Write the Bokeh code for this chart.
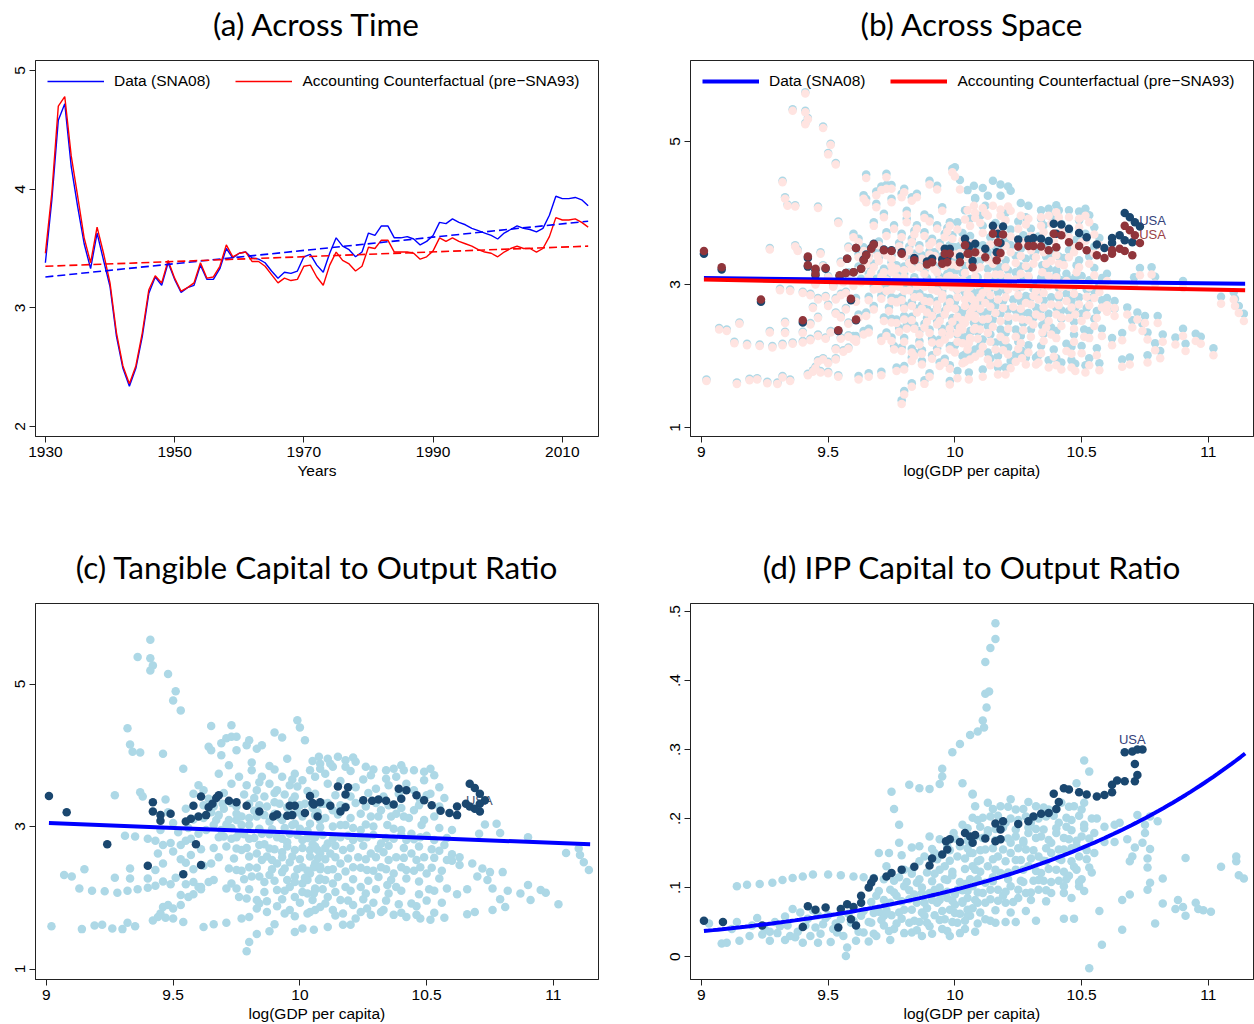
import numpy as np
from bokeh.plotting import figure
from bokeh.models import Range1d, FixedTicker, Legend, LegendItem, Label, LinearAxis
from bokeh.layouts import column, row
from bokeh.embed import file_html
from bokeh.resources import INLINE

# ---------------- (a) capital-output ratio across time ----------------
years = list(range(1930, 2015))
ky_data = [3.38, 3.91, 4.58, 4.72, 4.19, 3.85, 3.54, 3.33, 3.63, 3.40,
           3.18, 2.76, 2.49, 2.34, 2.49, 2.76, 3.12, 3.26, 3.19, 3.38,
           3.24, 3.13, 3.17, 3.19, 3.36, 3.24, 3.24, 3.33, 3.50, 3.42,
           3.46, 3.47, 3.42, 3.41, 3.38, 3.31, 3.25, 3.30, 3.29, 3.31,
           3.43, 3.45, 3.36, 3.30, 3.46, 3.59, 3.52, 3.49, 3.43, 3.47,
           3.63, 3.61, 3.69, 3.69, 3.59, 3.59, 3.60, 3.58, 3.53, 3.56,
           3.61, 3.72, 3.71, 3.75, 3.72, 3.70, 3.67, 3.65, 3.63, 3.61,
           3.58, 3.63, 3.66, 3.69, 3.67, 3.66, 3.64, 3.67, 3.78, 3.94,
           3.92, 3.92, 3.93, 3.91, 3.86]
ky_cf = [3.46, 3.97, 4.70, 4.78, 4.28, 3.94, 3.59, 3.38, 3.68, 3.46,
         3.21, 2.79, 2.51, 2.36, 2.51, 2.79, 3.15, 3.27, 3.21, 3.40,
         3.25, 3.14, 3.17, 3.21, 3.38, 3.25, 3.26, 3.35, 3.53, 3.43,
         3.46, 3.47, 3.39, 3.39, 3.35, 3.28, 3.21, 3.25, 3.23, 3.24,
         3.35, 3.36, 3.26, 3.19, 3.36, 3.47, 3.40, 3.37, 3.31, 3.35,
         3.51, 3.50, 3.57, 3.57, 3.47, 3.47, 3.47, 3.46, 3.41, 3.43,
         3.48, 3.59, 3.56, 3.59, 3.56, 3.54, 3.52, 3.49, 3.47, 3.46,
         3.43, 3.47, 3.50, 3.52, 3.50, 3.50, 3.47, 3.50, 3.60, 3.76,
         3.74, 3.74, 3.75, 3.72, 3.68]
trend_years = [1930, 2014]
trend_data = [3.26, 3.73]
trend_cf = [3.35, 3.52]

# ---------------- (b)/(c) country-year panel: (log GDP pc, tangible K/Y, total K/Y, counterfactual K/Y)
panel_rows = [
    (9.41, 5.62, 5.69, 5.67), (9.36, 5.38, 5.45, 5.43), (9.41, 5.36, 5.43, 5.41), (9.42, 5.26, 5.33, 5.31),
    (9.41, 5.19, 5.26, 5.24), (9.48, 5.14, 5.21, 5.19), (9.51, 4.90, 4.97, 4.95), (9.50, 4.77, 4.84, 4.82),
    (9.53, 4.63, 4.70, 4.68), (9.32, 4.38, 4.45, 4.43), (9.33, 4.15, 4.22, 4.20), (9.34, 4.05, 4.12, 4.10),
    (9.37, 4.04, 4.11, 4.09), (9.46, 4.02, 4.09, 4.07), (9.54, 3.81, 3.88, 3.86), (9.27, 3.44, 3.51, 3.49),
    (9.37, 3.48, 3.55, 3.53), (9.38, 3.42, 3.49, 3.47), (9.47, 3.38, 3.45, 3.43),
    (9.65, 4.41, 4.54, 4.49), (9.73, 4.42, 4.55, 4.50), (9.64, 4.12, 4.25, 4.20), (9.65, 4.07, 4.20, 4.15),
    (9.69, 4.17, 4.30, 4.25), (9.71, 4.24, 4.37, 4.32), (9.73, 4.26, 4.39, 4.34), (9.75, 4.26, 4.39, 4.34),
    (9.69, 4.00, 4.13, 4.08), (9.75, 4.07, 4.20, 4.15), (9.79, 4.14, 4.27, 4.22), (9.80, 4.21, 4.34, 4.29),
    (9.83, 4.09, 4.22, 4.17), (9.85, 4.14, 4.27, 4.22), (9.90, 4.32, 4.45, 4.40), (9.93, 4.25, 4.38, 4.33),
    (9.99, 4.49, 4.62, 4.57), (10.00, 4.39, 4.64, 4.51), (10.02, 4.21, 4.46, 4.33),
    (9.02, 1.60, 1.67, 1.65), (9.14, 1.56, 1.63, 1.61), (9.19, 1.61, 1.68, 1.66), (9.22, 1.62, 1.69, 1.67),
    (9.26, 1.57, 1.64, 1.62), (9.30, 1.56, 1.63, 1.61), (9.32, 1.65, 1.72, 1.70), (9.35, 1.60, 1.67, 1.65),
    (9.42, 1.68, 1.75, 1.73), (9.44, 1.73, 1.80, 1.78), (9.45, 1.78, 1.85, 1.83), (9.47, 1.72, 1.79, 1.77),
    (9.46, 1.87, 1.94, 1.92), (9.48, 1.90, 1.97, 1.95), (9.50, 1.71, 1.78, 1.76), (9.50, 1.85, 1.92, 1.90),
    (9.53, 1.90, 1.97, 1.95), (9.54, 1.66, 1.73, 1.71), (9.53, 2.04, 2.11, 2.09), (9.56, 2.01, 2.08, 2.06),
    (9.58, 2.05, 2.12, 2.10), (9.61, 2.15, 2.28, 2.23), (9.62, 1.59, 1.72, 1.67), (9.66, 1.63, 1.76, 1.71),
    (9.71, 1.65, 1.78, 1.73), (9.07, 2.32, 2.39, 2.37), (9.10, 2.30, 2.37, 2.35), (9.15, 2.40, 2.47, 2.45),
    (9.13, 2.13, 2.20, 2.18), (9.18, 2.10, 2.17, 2.15), (9.23, 2.09, 2.16, 2.14), (9.27, 2.28, 2.35, 2.33),
    (9.28, 2.07, 2.14, 2.12), (9.32, 2.10, 2.17, 2.15), (9.36, 2.12, 2.19, 2.17), (9.33, 2.41, 2.48, 2.46),
    (9.33, 2.27, 2.34, 2.32), (9.40, 2.14, 2.21, 2.19), (9.43, 2.17, 2.24, 2.22), (9.46, 2.23, 2.30, 2.28),
    (9.49, 2.19, 2.26, 2.24), (9.40, 2.27, 2.34, 2.32), (9.43, 2.39, 2.46, 2.44), (9.46, 2.48, 2.55, 2.53),
    (9.51, 2.28, 2.35, 2.33), (9.53, 2.54, 2.61, 2.59), (9.55, 2.49, 2.56, 2.54), (9.55, 2.19, 2.26, 2.24),
    (9.58, 2.22, 2.29, 2.27), (9.60, 2.15, 2.28, 2.23), (9.61, 2.12, 2.25, 2.20), (9.64, 2.22, 2.35, 2.30),
    (9.66, 2.25, 2.38, 2.33), (9.65, 2.48, 2.61, 2.56), (9.68, 2.57, 2.70, 2.65),
    (9.31, 2.87, 2.94, 2.92), (9.35, 2.86, 2.93, 2.91), (9.40, 2.83, 2.90, 2.88), (9.43, 2.80, 2.87, 2.85),
    (9.46, 2.74, 2.81, 2.79), (9.49, 2.77, 2.84, 2.82), (9.53, 2.74, 2.81, 2.79), (9.55, 2.80, 2.87, 2.85),
    (9.57, 2.83, 2.90, 2.88), (9.58, 3.46, 3.53, 3.51), (9.60, 3.58, 3.71, 3.66), (9.62, 3.51, 3.64, 3.59),
    (9.64, 3.39, 3.52, 3.47), (9.67, 3.09, 3.22, 3.17), (9.68, 2.85, 2.98, 2.93), (9.66, 2.70, 2.83, 2.78),
    (9.71, 3.03, 3.16, 3.11), (9.75, 3.09, 3.22, 3.17), (9.77, 3.14, 3.27, 3.22), (9.73, 2.83, 2.96, 2.91),
    (9.75, 2.69, 2.82, 2.77), (9.76, 2.90, 3.03, 2.98), (9.72, 2.41, 2.54, 2.49), (9.75, 2.39, 2.52, 2.47),
    (9.73, 2.20, 2.33, 2.28), (9.75, 2.13, 2.26, 2.21), (9.71, 2.13, 2.26, 2.21), (9.76, 2.01, 2.14, 2.09),
    (9.79, 1.99, 2.12, 2.07), (9.83, 1.97, 2.10, 2.05), (9.77, 1.71, 1.84, 1.79), (9.80, 1.73, 1.86, 1.81),
    (9.83, 1.85, 1.98, 1.93), (9.84, 1.92, 2.05, 2.00), (9.79, 1.25, 1.38, 1.33), (9.80, 1.38, 1.51, 1.46),
    (9.83, 1.49, 1.62, 1.57), (9.88, 1.53, 1.66, 1.61), (9.90, 1.63, 1.76, 1.71), (9.91, 1.88, 2.01, 1.96),
    (9.96, 1.83, 1.96, 1.91), (9.98, 1.74, 1.87, 1.82), (9.98, 1.52, 1.65, 1.60), (10.01, 1.57, 1.79, 1.69),
    (10.03, 1.78, 2.00, 1.90), (10.06, 1.83, 2.05, 1.95), (9.98, 2.01, 2.14, 2.09), (10.01, 2.08, 2.30, 2.20),
    (10.06, 2.13, 2.35, 2.25),
    (9.76, 3.70, 3.83, 3.78), (9.79, 3.58, 3.71, 3.66), (9.81, 3.79, 3.92, 3.87), (9.83, 3.51, 3.64, 3.59),
    (9.85, 3.70, 3.83, 3.78), (9.88, 3.60, 3.73, 3.68), (9.91, 3.51, 3.64, 3.59), (9.93, 3.70, 3.83, 3.78),
    (9.96, 3.58, 3.71, 3.66), (9.98, 3.74, 3.87, 3.82), (10.01, 3.65, 3.87, 3.77), (10.04, 3.79, 4.04, 3.91),
    (10.06, 3.70, 3.92, 3.82), (10.08, 3.88, 4.20, 4.00), (9.695, 3.32, 3.45, 3.40), (9.75, 3.28, 3.41, 3.36),
    (9.80, 3.32, 3.45, 3.40), (9.87, 3.28, 3.41, 3.36), (9.92, 3.32, 3.45, 3.40), (9.97, 3.37, 3.50, 3.45),
    (10.02, 3.32, 3.54, 3.44), (10.08, 3.32, 3.54, 3.44), (9.72, 3.09, 3.22, 3.17), (9.77, 3.02, 3.15, 3.10),
    (9.83, 3.14, 3.27, 3.22), (9.88, 3.07, 3.20, 3.15), (9.93, 3.09, 3.22, 3.17), (9.98, 3.04, 3.17, 3.12),
    (10.04, 3.04, 3.26, 3.16), (10.08, 3.09, 3.31, 3.21), (9.75, 2.85, 2.98, 2.93), (9.80, 2.83, 2.96, 2.91),
    (9.85, 2.90, 3.03, 2.98), (9.91, 2.85, 2.98, 2.93), (9.96, 2.90, 3.03, 2.98), (10.01, 2.81, 3.03, 2.93),
    (10.06, 2.85, 3.07, 2.97), (9.77, 2.67, 2.80, 2.75), (9.83, 2.62, 2.75, 2.70), (9.88, 2.69, 2.82, 2.77),
    (9.93, 2.64, 2.77, 2.72), (9.98, 2.67, 2.80, 2.75), (10.04, 2.67, 2.89, 2.79), (10.08, 2.62, 2.84, 2.74),
    (9.80, 2.43, 2.56, 2.51), (9.85, 2.53, 2.66, 2.61), (9.91, 2.48, 2.61, 2.56), (9.96, 2.50, 2.63, 2.58),
    (10.01, 2.43, 2.65, 2.55), (10.06, 2.48, 2.70, 2.60), (9.81, 2.30, 2.43, 2.38), (9.88, 2.32, 2.45, 2.40),
    (9.93, 2.36, 2.49, 2.44), (9.98, 2.30, 2.43, 2.38), (10.04, 2.34, 2.56, 2.46), (10.08, 2.27, 2.49, 2.39),
    (9.91, 2.11, 2.24, 2.19), (9.96, 2.15, 2.28, 2.23), (10.01, 2.20, 2.42, 2.32), (10.06, 2.11, 2.33, 2.23),
    (9.78, 3.45, 3.58, 3.53), (9.86, 3.42, 3.55, 3.50), (9.94, 3.45, 3.58, 3.53), (10.03, 3.50, 3.72, 3.62),
    (9.82, 3.22, 3.35, 3.30), (9.90, 3.18, 3.31, 3.26), (9.99, 3.20, 3.33, 3.28), (10.07, 3.20, 3.42, 3.32),
    (9.84, 2.97, 3.10, 3.05), (9.94, 2.98, 3.11, 3.06), (10.03, 2.94, 3.16, 3.06), (9.86, 2.75, 2.88, 2.83),
    (9.95, 2.78, 2.91, 2.86), (10.05, 2.75, 2.97, 2.87), (9.87, 2.58, 2.71, 2.66), (9.97, 2.58, 2.71, 2.66),
    (10.07, 2.55, 2.77, 2.67), (9.89, 2.40, 2.53, 2.48), (9.99, 2.40, 2.53, 2.48), (10.08, 2.40, 2.62, 2.52),
    (9.86, 2.22, 2.35, 2.30), (9.95, 2.25, 2.38, 2.33), (10.03, 2.25, 2.47, 2.37), (9.62, 3.30, 3.43, 3.38),
    (9.65, 3.20, 3.33, 3.28), (9.63, 2.95, 3.08, 3.03), (9.69, 2.95, 3.08, 3.03), (9.70, 3.25, 3.38, 3.33),
    (9.66, 3.35, 3.48, 3.43), (9.81, 3.90, 4.03, 3.98), (9.88, 3.85, 3.98, 3.93), (9.95, 3.95, 4.08, 4.03),
    (10.05, 3.92, 4.32, 4.04),
    (10.075, 3.98, 4.38, 4.10), (10.11, 3.95, 4.35, 4.07), (10.15, 3.98, 4.45, 4.10), (10.18, 3.93, 4.40, 4.05),
    (10.21, 3.97, 4.37, 4.09), (10.22, 3.91, 4.31, 4.03), (10.18, 3.84, 4.24, 3.96), (10.13, 3.84, 4.24, 3.96),
    (10.08, 3.81, 4.21, 3.93), (10.26, 3.84, 4.14, 3.96), (10.29, 3.80, 4.10, 3.92), (10.34, 3.79, 4.04, 3.94),
    (10.37, 3.81, 4.06, 3.96), (10.41, 3.79, 4.04, 3.94), (10.45, 3.79, 4.04, 3.94), (10.49, 3.77, 4.02, 3.92),
    (10.515, 3.81, 4.06, 3.96), (10.34, 3.67, 3.92, 3.82), (10.25, 3.66, 3.88, 3.78), (10.30, 3.53, 3.78, 3.68),
    (10.49, 3.65, 3.90, 3.80), (10.45, 3.51, 3.76, 3.66), (10.515, 3.46, 3.71, 3.61), (10.475, 3.37, 3.62, 3.52),
    (10.095, 3.32, 3.54, 3.44), (10.13, 3.23, 3.45, 3.35), (10.18, 3.28, 3.50, 3.40), (10.24, 3.18, 3.40, 3.30),
    (10.28, 3.14, 3.36, 3.26), (10.32, 3.23, 3.48, 3.38), (10.36, 3.14, 3.39, 3.29), (10.41, 3.14, 3.39, 3.29),
    (10.45, 3.23, 3.48, 3.38), (10.49, 3.09, 3.34, 3.24), (10.08, 3.09, 3.31, 3.21), (10.13, 3.00, 3.22, 3.12),
    (10.18, 3.02, 3.24, 3.14), (10.24, 2.95, 3.17, 3.07), (10.29, 3.00, 3.22, 3.12), (10.345, 3.02, 3.27, 3.17),
    (10.40, 2.95, 3.20, 3.10), (10.44, 2.90, 3.15, 3.05), (10.055, 2.85, 3.07, 2.97), (10.11, 2.76, 2.98, 2.88),
    (10.16, 2.85, 3.07, 2.97), (10.21, 2.81, 3.03, 2.93), (10.265, 2.85, 3.07, 2.97), (10.32, 2.76, 3.01, 2.91),
    (10.37, 2.83, 3.08, 2.98), (10.42, 2.81, 3.06, 2.96), (10.475, 2.85, 3.10, 3.00), (10.53, 2.81, 3.06, 2.96),
    (10.707, 2.90, 3.10, 3.00), (10.73, 3.03, 3.23, 3.13), (10.776, 3.04, 3.24, 3.14), (10.79, 2.91, 3.11, 3.01),
    (10.90, 2.85, 3.05, 2.95), (11.05, 2.63, 2.83, 2.73), (11.10, 2.69, 2.89, 2.79), (11.105, 2.60, 2.80, 2.70),
    (11.12, 2.50, 2.70, 2.60), (11.14, 2.39, 2.59, 2.49),
    (10.07, 2.67, 2.89, 2.79), (10.12, 2.62, 2.84, 2.74), (10.17, 2.67, 2.89, 2.79), (10.23, 2.57, 2.79, 2.69),
    (10.28, 2.62, 2.84, 2.74), (10.33, 2.64, 2.89, 2.79), (10.38, 2.57, 2.82, 2.72), (10.44, 2.62, 2.87, 2.77),
    (10.49, 2.57, 2.82, 2.72), (10.55, 2.66, 2.91, 2.81), (10.60, 2.61, 2.81, 2.71), (10.63, 2.57, 2.77, 2.67),
    (10.055, 2.43, 2.65, 2.55), (10.11, 2.39, 2.61, 2.51), (10.16, 2.48, 2.70, 2.60), (10.21, 2.43, 2.65, 2.55),
    (10.265, 2.39, 2.61, 2.51), (10.32, 2.43, 2.68, 2.58), (10.37, 2.34, 2.59, 2.49), (10.42, 2.39, 2.64, 2.54),
    (10.475, 2.43, 2.68, 2.58), (10.50, 2.34, 2.59, 2.49), (10.58, 2.53, 2.78, 2.68), (10.63, 2.46, 2.66, 2.56),
    (10.68, 2.48, 2.68, 2.58), (10.72, 2.41, 2.61, 2.51), (10.75, 2.36, 2.56, 2.46), (10.80, 2.36, 2.56, 2.46),
    (10.70, 2.30, 2.50, 2.40), (10.74, 2.25, 2.45, 2.35), (10.075, 2.25, 2.47, 2.37), (10.13, 2.20, 2.42, 2.32),
    (10.18, 2.15, 2.37, 2.27), (10.24, 2.15, 2.37, 2.27), (10.345, 2.18, 2.43, 2.33), (10.38, 2.15, 2.40, 2.30),
    (10.58, 2.13, 2.38, 2.28), (10.53, 2.10, 2.35, 2.25), (10.66, 2.12, 2.32, 2.22), (10.76, 2.13, 2.33, 2.23),
    (10.82, 2.10, 2.30, 2.20), (10.87, 2.06, 2.26, 2.16), (10.90, 2.18, 2.38, 2.28), (10.95, 2.11, 2.31, 2.21),
    (10.97, 2.07, 2.27, 2.17), (10.79, 1.98, 2.18, 2.08), (10.81, 1.87, 2.07, 1.97), (10.91, 1.97, 2.17, 2.07),
    (11.02, 1.91, 2.11, 2.01),
    (10.055, 2.06, 2.28, 2.18), (10.11, 2.01, 2.23, 2.13), (10.16, 1.97, 2.19, 2.09), (10.21, 1.90, 2.12, 2.02),
    (10.265, 1.85, 2.07, 1.97), (10.32, 1.80, 1.98, 1.88), (10.37, 1.76, 1.94, 1.84), (10.42, 1.73, 1.91, 1.81),
    (10.475, 1.71, 1.89, 1.79), (10.515, 1.69, 1.87, 1.77), (10.57, 1.72, 1.90, 1.80), (10.66, 1.77, 1.95, 1.85),
    (10.69, 1.80, 1.98, 1.88), (10.76, 1.83, 2.01, 1.91), (10.08, 1.87, 2.09, 1.99), (10.13, 1.83, 2.05, 1.95),
    (10.17, 1.78, 2.00, 1.90), (10.22, 1.71, 1.93, 1.83), (10.20, 1.62, 1.84, 1.74), (10.17, 1.62, 1.84, 1.74),
    (10.11, 1.59, 1.81, 1.71), (10.055, 1.55, 1.77, 1.67), (10.44, 1.92, 2.17, 2.07), (10.46, 1.88, 2.13, 2.03),
    # the dense middle of the distribution
    (9.72, 3.86, 3.99, 3.94), (9.90, 3.80, 3.93, 3.88), (10.12, 3.88, 4.10, 4.00), (10.28, 3.72, 3.94, 3.84),
    (10.40, 3.86, 4.11, 4.01), (9.68, 3.74, 3.87, 3.82), (9.97, 3.66, 3.79, 3.74), (10.10, 3.74, 3.96, 3.86),
    (10.20, 3.78, 4.00, 3.90), (10.38, 3.70, 3.95, 3.85), (10.53, 3.72, 3.97, 3.87), (9.73, 3.60, 3.73, 3.68),
    (9.84, 3.62, 3.75, 3.70), (9.99, 3.56, 3.69, 3.64), (10.11, 3.60, 3.82, 3.72), (10.16, 3.64, 3.86, 3.76),
    (10.22, 3.55, 3.77, 3.67), (10.35, 3.58, 3.83, 3.73), (10.42, 3.60, 3.85, 3.75), (10.55, 3.55, 3.80, 3.70),
    (9.70, 3.47, 3.60, 3.55), (9.82, 3.40, 3.53, 3.48), (9.90, 3.47, 3.60, 3.55), (9.98, 3.42, 3.55, 3.50),
    (10.06, 3.46, 3.68, 3.58), (10.14, 3.44, 3.66, 3.56), (10.20, 3.42, 3.64, 3.54), (10.27, 3.47, 3.69, 3.59),
    (10.33, 3.42, 3.67, 3.57), (10.39, 3.46, 3.71, 3.61), (10.50, 3.44, 3.69, 3.59), (10.57, 3.40, 3.65, 3.55),
    (9.66, 3.28, 3.41, 3.36), (9.73, 3.33, 3.46, 3.41), (9.84, 3.30, 3.43, 3.38), (9.90, 3.34, 3.47, 3.42),
    (9.95, 3.27, 3.40, 3.35), (10.00, 3.30, 3.52, 3.42), (10.05, 3.26, 3.48, 3.38), (10.11, 3.33, 3.55, 3.45),
    (10.16, 3.30, 3.52, 3.42), (10.22, 3.33, 3.55, 3.45), (10.26, 3.28, 3.50, 3.40), (10.30, 3.33, 3.58, 3.48),
    (10.35, 3.30, 3.55, 3.45), (10.40, 3.26, 3.51, 3.41), (10.47, 3.30, 3.55, 3.45), (10.55, 3.28, 3.53, 3.43),
    (9.68, 3.16, 3.29, 3.24), (9.75, 3.18, 3.31, 3.26), (9.80, 3.12, 3.25, 3.20), (9.86, 3.16, 3.29, 3.24),
    (9.92, 3.13, 3.26, 3.21), (9.96, 3.18, 3.31, 3.26), (10.01, 3.14, 3.36, 3.26), (10.06, 3.16, 3.38, 3.28),
    (10.10, 3.12, 3.34, 3.24), (10.15, 3.17, 3.39, 3.29), (10.20, 3.12, 3.34, 3.24), (10.31, 3.14, 3.39, 3.29),
    (10.38, 3.18, 3.43, 3.33), (10.43, 3.12, 3.37, 3.27), (10.53, 3.14, 3.39, 3.29),
    (9.66, 3.02, 3.15, 3.10), (9.73, 2.98, 3.11, 3.06), (9.80, 3.02, 3.15, 3.10), (9.89, 2.96, 3.09, 3.04),
    (9.97, 3.02, 3.15, 3.10), (10.00, 2.97, 3.19, 3.09), (10.08, 2.99, 3.21, 3.11), (10.16, 3.02, 3.24, 3.14),
    (10.21, 2.98, 3.20, 3.10), (10.26, 3.03, 3.25, 3.15), (10.37, 2.97, 3.22, 3.12), (10.48, 3.02, 3.27, 3.17),
    (10.55, 2.98, 3.23, 3.13), (10.60, 2.95, 3.15, 3.05),
    (9.70, 2.86, 2.99, 2.94), (9.78, 2.89, 3.02, 2.97), (9.82, 2.84, 2.97, 2.92), (9.88, 2.89, 3.02, 2.97),
    (9.93, 2.83, 2.96, 2.91), (9.99, 2.88, 3.01, 2.96), (10.03, 2.84, 3.06, 2.96), (10.09, 2.88, 3.10, 3.00),
    (10.13, 2.83, 3.05, 2.95), (10.19, 2.87, 3.09, 2.99), (10.24, 2.84, 3.06, 2.96), (10.29, 2.88, 3.10, 3.00),
    (10.34, 2.84, 3.09, 2.99), (10.40, 2.88, 3.13, 3.03), (10.45, 2.82, 3.07, 2.97), (10.50, 2.87, 3.12, 3.02),
    (10.58, 2.84, 3.09, 2.99),
    (9.71, 2.72, 2.85, 2.80), (9.79, 2.70, 2.83, 2.78), (9.84, 2.74, 2.87, 2.82), (9.90, 2.68, 2.81, 2.76),
    (9.95, 2.72, 2.85, 2.80), (10.01, 2.70, 2.92, 2.82), (10.06, 2.72, 2.94, 2.84), (10.10, 2.70, 2.92, 2.82),
    (10.14, 2.73, 2.95, 2.85), (10.20, 2.70, 2.92, 2.82), (10.25, 2.73, 2.95, 2.85), (10.31, 2.69, 2.94, 2.84),
    (10.35, 2.73, 2.98, 2.88), (10.41, 2.70, 2.95, 2.85), (10.47, 2.72, 2.97, 2.87), (10.52, 2.68, 2.93, 2.83),
    (10.57, 2.74, 2.99, 2.89),
    (9.74, 2.55, 2.68, 2.63), (9.80, 2.58, 2.71, 2.66), (9.89, 2.53, 2.66, 2.61), (9.93, 2.57, 2.70, 2.65),
    (10.00, 2.54, 2.76, 2.66), (10.04, 2.58, 2.80, 2.70), (10.10, 2.54, 2.76, 2.66), (10.14, 2.57, 2.79, 2.69),
    (10.19, 2.55, 2.77, 2.67), (10.26, 2.54, 2.76, 2.66), (10.30, 2.57, 2.82, 2.72), (10.35, 2.53, 2.78, 2.68),
    (10.41, 2.56, 2.81, 2.71), (10.46, 2.53, 2.78, 2.68), (10.53, 2.56, 2.81, 2.71), (10.60, 2.52, 2.72, 2.62),
    (9.77, 2.38, 2.51, 2.46), (9.83, 2.42, 2.55, 2.50), (9.94, 2.41, 2.54, 2.49), (10.03, 2.38, 2.60, 2.50),
    (10.08, 2.44, 2.66, 2.56), (10.13, 2.40, 2.62, 2.52), (10.18, 2.37, 2.59, 2.49), (10.24, 2.42, 2.64, 2.54),
    (10.29, 2.38, 2.60, 2.50), (10.34, 2.40, 2.65, 2.55), (10.40, 2.43, 2.68, 2.58), (10.45, 2.38, 2.63, 2.53),
    (10.52, 2.42, 2.67, 2.57), (10.56, 2.38, 2.63, 2.53),
    (9.78, 2.26, 2.39, 2.34), (9.84, 2.30, 2.43, 2.38), (9.90, 2.24, 2.37, 2.32), (9.98, 2.22, 2.35, 2.30),
    (10.02, 2.28, 2.50, 2.40), (10.10, 2.25, 2.47, 2.37), (10.15, 2.29, 2.51, 2.41), (10.21, 2.26, 2.48, 2.38),
    (10.27, 2.24, 2.46, 2.36), (10.31, 2.29, 2.54, 2.44), (10.36, 2.25, 2.50, 2.40), (10.42, 2.27, 2.52, 2.42),
    (10.47, 2.23, 2.48, 2.38), (10.55, 2.27, 2.52, 2.42),
    (9.80, 2.12, 2.25, 2.20), (9.86, 2.08, 2.21, 2.16), (9.94, 2.10, 2.23, 2.18), (10.03, 2.06, 2.28, 2.18),
    (10.09, 2.12, 2.34, 2.24), (10.14, 2.08, 2.30, 2.20), (10.20, 2.10, 2.32, 2.22), (10.26, 2.06, 2.28, 2.18),
    (10.30, 2.12, 2.37, 2.27), (10.35, 2.06, 2.31, 2.21), (10.40, 2.10, 2.35, 2.25), (10.47, 2.05, 2.30, 2.20),
    (10.51, 2.12, 2.37, 2.27), (10.62, 2.05, 2.25, 2.15),
    (9.87, 1.95, 2.08, 2.03), (9.93, 1.98, 2.11, 2.06), (10.00, 1.93, 2.15, 2.05), (10.05, 1.97, 2.19, 2.09),
    (10.10, 1.92, 2.14, 2.04), (10.19, 1.96, 2.18, 2.08), (10.25, 1.98, 2.20, 2.10), (10.29, 1.93, 2.15, 2.05),
    (10.34, 1.96, 2.14, 2.04), (10.39, 1.91, 2.09, 1.99), (10.50, 1.96, 2.14, 2.04), (10.56, 1.93, 2.11, 2.01),
    (9.87, 1.80, 1.93, 1.88), (9.94, 1.78, 1.91, 1.86), (10.04, 1.80, 2.02, 1.92), (10.14, 1.75, 1.97, 1.87),
    (10.24, 1.80, 2.02, 1.92), (10.28, 1.76, 1.98, 1.88), (10.33, 1.83, 2.01, 1.91), (10.40, 1.79, 1.97, 1.87),
    (10.46, 1.76, 1.94, 1.84), (10.53, 1.79, 1.97, 1.87),
    (9.45, 2.95, 3.02, 3.00), (9.50, 3.05, 3.12, 3.10), (9.52, 2.92, 2.99, 2.97), (9.56, 2.98, 3.05, 3.03),
    (9.60, 2.90, 3.03, 2.98), (9.48, 3.20, 3.27, 3.25), (9.55, 3.25, 3.32, 3.30), (9.58, 3.10, 3.17, 3.15),
    (9.62, 3.12, 3.25, 3.20), (9.44, 2.62, 2.69, 2.67), (9.50, 2.65, 2.72, 2.70), (9.57, 2.60, 2.67, 2.65),
    (9.61, 2.68, 2.81, 2.76), (9.62, 2.45, 2.58, 2.53), (9.58, 2.40, 2.47, 2.45),
]
log_gdp, tangible_ky, total_ky, counterfactual_ky = (list(c) for c in zip(*panel_rows))

# United States: (log GDP pc, total K/Y, counterfactual K/Y)
usa_b_rows = [
    (9.01, 3.43, 3.47), (9.08, 3.21, 3.24), (9.235, 2.76, 2.79), (9.40, 2.47, 2.50), (9.42, 3.37, 3.39),
    (9.42, 3.25, 3.27), (9.45, 3.20, 3.22), (9.45, 3.13, 3.15), (9.49, 3.22, 3.23), (9.54, 2.35, 2.36),
    (9.545, 3.12, 3.13), (9.57, 3.16, 3.16), (9.575, 3.36, 3.36), (9.59, 2.78, 2.80), (9.60, 3.17, 3.17),
    (9.61, 3.51, 3.51), (9.61, 2.50, 2.51), (9.63, 3.22, 3.22), (9.64, 3.35, 3.34), (9.65, 3.42, 3.41),
    (9.67, 3.51, 3.50), (9.68, 3.57, 3.56), (9.72, 3.49, 3.48), (9.75, 3.48, 3.47), (9.79, 3.45, 3.43),
    (9.84, 3.37, 3.34), (9.89, 3.32, 3.28), (9.91, 3.36, 3.31), (9.95, 3.35, 3.29), (9.96, 3.50, 3.43),
    (9.98, 3.50, 3.43), (9.97, 3.37, 3.31), (10.02, 3.39, 3.31), (10.04, 3.64, 3.55), (10.055, 3.52, 3.43),
    (10.07, 3.33, 3.24), (10.05, 3.55, 3.43), (10.08, 3.57, 3.45), (10.12, 3.50, 3.38), (10.15, 3.82, 3.71),
    (10.19, 3.81, 3.70), (10.17, 3.71, 3.59), (10.18, 3.58, 3.44), (10.165, 3.45, 3.34), (10.25, 3.63, 3.53),
    (10.29, 3.63, 3.54), (10.31, 3.65, 3.54), (10.34, 3.64, 3.53), (10.37, 3.61, 3.48), (10.39, 3.85, 3.71),
    (10.42, 3.84, 3.69), (10.40, 3.71, 3.52), (10.45, 3.78, 3.59), (10.49, 3.72, 3.54), (10.52, 3.66, 3.48),
    (10.56, 3.56, 3.41), (10.59, 3.51, 3.37), (10.62, 3.58, 3.43), (10.62, 3.65, 3.48), (10.65, 3.69, 3.50),
    (10.67, 3.62, 3.47), (10.70, 3.59, 3.41), (10.67, 4.00, 3.82), (10.69, 3.94, 3.76), (10.71, 3.87, 3.69),
    (10.73, 3.81, 3.58),
]
usa_b_gdp, usa_b_total, usa_b_cf = (list(c) for c in zip(*usa_b_rows))

# United States: (log GDP pc, tangible K/Y)
usa_c_rows = [
    (9.01, 3.43), (9.08, 3.20), (9.24, 2.75), (9.40, 2.45), (9.42, 3.34), (9.42, 3.21), (9.45, 3.16),
    (9.45, 3.08), (9.49, 3.18), (9.54, 2.33), (9.55, 3.07), (9.57, 3.11), (9.58, 3.29), (9.59, 2.75),
    (9.60, 3.14), (9.61, 3.42), (9.61, 2.46), (9.63, 3.16), (9.64, 3.27), (9.655, 3.32), (9.67, 3.40),
    (9.68, 3.44), (9.72, 3.36), (9.75, 3.34), (9.79, 3.29), (9.84, 3.21), (9.895, 3.14), (9.91, 3.17),
    (9.95, 3.15), (9.96, 3.29), (9.98, 3.29), (9.97, 3.16), (10.02, 3.19), (10.04, 3.43), (10.05, 3.33),
    (10.07, 3.14), (10.055, 3.31), (10.08, 3.34), (10.12, 3.29), (10.15, 3.56), (10.19, 3.55), (10.18, 3.45),
    (10.18, 3.27), (10.16, 3.21), (10.25, 3.37), (10.285, 3.36), (10.31, 3.38), (10.34, 3.36), (10.37, 3.31),
    (10.39, 3.53), (10.42, 3.51), (10.40, 3.39), (10.46, 3.44), (10.49, 3.37), (10.52, 3.30), (10.555, 3.22),
    (10.59, 3.19), (10.62, 3.16), (10.62, 3.28), (10.655, 3.32), (10.67, 3.28), (10.71, 3.21), (10.67, 3.60),
    (10.69, 3.54), (10.71, 3.46), (10.73, 3.37), (10.71, 3.32), (10.69, 3.25),
]
usa_c_gdp, usa_c_tangible = (list(c) for c in zip(*usa_c_rows))

# ---------------- (d) IPP capital-output ratio: (log GDP pc, IPP K/Y)
ipp_rows = [
    (10.16, 0.483), (10.16, 0.460), (10.14, 0.447), (10.12, 0.427), (10.12, 0.381), (10.135, 0.384),
    (10.125, 0.361), (10.11, 0.342), (10.115, 0.332), (10.09, 0.326), (10.06, 0.321), (10.02, 0.308),
    (9.99, 0.296), (10.03, 0.251), (9.95, 0.272), (9.95, 0.261), (9.94, 0.250), (9.90, 0.243), (9.86, 0.244),
    (9.82, 0.249), (9.75, 0.239), (9.76, 0.214), (9.78, 0.191), (9.78, 0.165), (9.83, 0.158), (9.90, 0.174),
    (9.94, 0.170), (9.995, 0.179), (10.03, 0.191), (10.07, 0.235), (10.07, 0.201),
    (10.51, 0.284), (10.53, 0.268), (10.48, 0.251), (10.07, 0.236), (10.29, 0.224), (10.22, 0.228),
    (9.14, 0.102), (9.18, 0.104), (9.23, 0.105), (9.28, 0.107), (9.32, 0.111), (9.36, 0.114), (9.40, 0.116),
    (9.44, 0.119), (9.50, 0.119), (9.55, 0.118), (9.60, 0.116), (9.64, 0.115), (9.68, 0.114), (9.72, 0.112),
    (9.03, 0.048), (9.08, 0.019), (9.10, 0.020), (9.15, 0.023), (9.19, 0.030), (9.14, 0.050), (9.22, 0.056),
    (9.27, 0.023), (9.31, 0.044), (9.33, 0.024), (9.36, 0.069), (9.39, 0.064), (9.40, 0.020), (9.43, 0.030),
    (9.46, 0.020), (9.48, 0.047), (9.51, 0.021), (9.535, 0.035), (9.575, 0.013), (9.57, 0.001), (9.61, 0.023),
    (9.64, 0.035), (9.66, 0.022), (9.69, 0.030), (9.745, 0.024), (9.55, 0.054), (9.59, 0.049), (9.63, 0.059),
    (9.67, 0.049), (9.72, 0.059), (9.25, 0.040), (9.29, 0.050), (9.34, 0.045), (9.38, 0.036), (9.42, 0.055),
    (9.45, 0.042), (9.50, 0.060), (9.53, 0.048), (9.20, 0.045), (9.12, 0.040), (9.30, 0.034), (9.44, 0.067),
    (9.745, 0.078), (9.77, 0.088), (9.80, 0.068), (9.82, 0.049), (9.85, 0.078), (9.88, 0.059), (9.90, 0.044),
    (9.93, 0.078), (9.96, 0.054), (9.98, 0.068), (10.01, 0.049), (10.03, 0.078), (10.06, 0.059), (9.745, 0.097),
    (9.80, 0.102), (9.85, 0.107), (9.90, 0.092), (9.96, 0.112), (10.01, 0.097), (10.06, 0.112), (9.69, 0.088),
    (9.73, 0.131), (9.80, 0.126), (9.88, 0.145), (9.96, 0.131), (10.01, 0.145), (10.07, 0.131), (9.70, 0.065),
    (9.72, 0.045), (9.76, 0.040), (9.79, 0.055), (9.83, 0.035), (9.86, 0.050), (9.89, 0.070), (9.92, 0.060),
    (9.95, 0.040), (9.97, 0.085), (10.00, 0.075), (10.02, 0.062), (10.05, 0.085), (10.07, 0.070), (9.78, 0.115),
    (9.83, 0.120), (9.87, 0.100), (9.92, 0.120), (9.94, 0.100), (9.99, 0.118), (10.04, 0.105), (9.84, 0.090),
    (9.91, 0.082), (9.95, 0.092), (10.00, 0.090), (10.05, 0.095), (9.75, 0.060), (9.87, 0.030), (9.98, 0.030),
    (10.04, 0.040), (9.70, 0.150), (9.74, 0.150), (9.79, 0.147), (9.86, 0.160), (9.92, 0.150), (9.97, 0.160),
    (10.02, 0.160), (10.06, 0.150),
    (10.08, 0.218), (10.13, 0.223), (10.18, 0.218), (10.24, 0.213), (10.32, 0.218), (10.37, 0.213),
    (10.42, 0.223), (10.47, 0.218), (10.51, 0.223), (10.09, 0.198), (10.14, 0.203), (10.20, 0.194),
    (10.25, 0.198), (10.30, 0.194), (10.36, 0.203), (10.41, 0.194), (10.46, 0.198), (10.51, 0.191),
    (10.08, 0.174), (10.13, 0.179), (10.18, 0.170), (10.24, 0.174), (10.29, 0.179), (10.34, 0.174),
    (10.40, 0.179), (10.45, 0.170), (10.50, 0.174), (10.55, 0.179), (10.07, 0.150), (10.12, 0.155),
    (10.17, 0.145), (10.22, 0.150), (10.28, 0.155), (10.33, 0.145), (10.38, 0.150), (10.43, 0.155),
    (10.49, 0.145), (10.53, 0.129), (10.08, 0.126), (10.13, 0.131), (10.18, 0.121), (10.24, 0.126),
    (10.29, 0.131), (10.34, 0.121), (10.40, 0.126), (10.45, 0.117), (10.50, 0.112), (10.07, 0.102),
    (10.12, 0.107), (10.17, 0.097), (10.22, 0.102), (10.28, 0.092), (10.33, 0.097), (10.38, 0.092),
    (10.43, 0.102), (10.49, 0.102), (10.09, 0.078), (10.14, 0.083), (10.20, 0.078), (10.25, 0.085),
    (10.05, 0.059), (10.12, 0.054), (10.16, 0.049), (10.24, 0.050), (10.32, 0.052), (10.43, 0.055),
    (10.47, 0.055), (10.57, 0.066), (10.66, 0.082), (10.69, 0.090), (10.66, 0.039), (10.58, 0.017),
    (10.53, -0.017), (10.79, 0.048),
    (10.59, 0.188), (10.63, 0.191), (10.65, 0.194), (10.72, 0.205), (10.77, 0.203), (10.80, 0.196),
    (10.75, 0.179), (10.75, 0.191), (10.59, 0.166), (10.63, 0.166), (10.68, 0.170), (10.74, 0.165),
    (10.77, 0.156), (10.71, 0.158), (10.70, 0.145), (10.69, 0.138), (10.76, 0.142), (10.76, 0.129),
    (10.77, 0.107), (10.76, 0.097), (10.82, 0.113), (10.82, 0.077), (10.88, 0.082), (10.87, 0.069),
    (10.90, 0.072), (10.91, 0.059), (10.95, 0.078), (10.96, 0.069), (10.98, 0.067), (11.01, 0.065),
    (10.91, 0.143), (11.05, 0.130), (11.11, 0.145), (11.11, 0.138), (11.12, 0.118), (11.14, 0.113),
    (10.10, 0.188), (10.16, 0.185), (10.22, 0.165), (10.27, 0.165), (10.32, 0.185), (10.38, 0.165),
    (10.44, 0.188), (10.48, 0.160), (10.10, 0.140), (10.15, 0.115), (10.20, 0.138), (10.26, 0.140),
    (10.31, 0.110), (10.36, 0.138), (10.42, 0.140), (10.47, 0.130), (10.11, 0.092), (10.19, 0.088),
    (10.26, 0.110), (10.35, 0.110), (10.41, 0.110), (10.46, 0.085), (10.51, 0.095), (10.55, 0.150),
    (10.56, 0.200),
    # the dense middle of the distribution
    (9.62, 0.036), (9.68, 0.033), (9.74, 0.037), (9.80, 0.034), (9.85, 0.038), (9.91, 0.033), (9.97, 0.037),
    (10.02, 0.034), (10.08, 0.036), (9.60, 0.052), (9.66, 0.050), (9.71, 0.053), (9.77, 0.048), (9.84, 0.052),
    (9.89, 0.049), (9.94, 0.053), (9.99, 0.050), (10.04, 0.052), (10.09, 0.048), (10.14, 0.052), (10.20, 0.050),
    (9.64, 0.066), (9.68, 0.063), (9.73, 0.067), (9.78, 0.064), (9.83, 0.068), (9.87, 0.064), (9.95, 0.066),
    (10.00, 0.063), (10.05, 0.068), (10.10, 0.064), (10.16, 0.067), (10.22, 0.064), (10.28, 0.066),
    (9.67, 0.079), (9.72, 0.082), (9.79, 0.080), (9.82, 0.083), (9.88, 0.078), (9.94, 0.082), (9.99, 0.081),
    (10.03, 0.080), (10.08, 0.082), (10.12, 0.078), (10.17, 0.081), (10.23, 0.079), (10.30, 0.082), (10.36, 0.080),
    (9.70, 0.095), (9.76, 0.093), (9.82, 0.096), (9.87, 0.092), (9.92, 0.097), (9.97, 0.094), (10.03, 0.096),
    (10.09, 0.093), (10.14, 0.097), (10.20, 0.094), (10.25, 0.097), (10.30, 0.093), (10.36, 0.096), (10.43, 0.092),
    (9.76, 0.110), (9.81, 0.108), (9.86, 0.112), (9.91, 0.109), (9.97, 0.111), (10.02, 0.108), (10.09, 0.112),
    (10.15, 0.109), (10.21, 0.112), (10.27, 0.108), (10.33, 0.111), (10.38, 0.108), (10.44, 0.112), (10.49, 0.108),
    (9.83, 0.125), (9.89, 0.122), (9.94, 0.126), (9.99, 0.123), (10.04, 0.127), (10.10, 0.123), (10.16, 0.126),
    (10.21, 0.122), (10.27, 0.126), (10.32, 0.124), (10.37, 0.127), (10.43, 0.123), (10.48, 0.126), (10.54, 0.122),
    (9.86, 0.138), (9.93, 0.141), (9.98, 0.139), (10.04, 0.142), (10.09, 0.138), (10.15, 0.141), (10.24, 0.140),
    (10.30, 0.142), (10.35, 0.139), (10.41, 0.142), (10.46, 0.138), (10.52, 0.141),
    (9.91, 0.156), (9.98, 0.154), (10.05, 0.157), (10.10, 0.154), (10.15, 0.157), (10.19, 0.155), (10.25, 0.157),
    (10.31, 0.154), (10.36, 0.157), (10.41, 0.155), (10.46, 0.157), (10.52, 0.154),
    (10.00, 0.171), (10.05, 0.168), (10.11, 0.172), (10.16, 0.169), (10.21, 0.171), (10.27, 0.168),
    (10.32, 0.172), (10.37, 0.169), (10.43, 0.172), (10.48, 0.168), (10.53, 0.171),
    (10.05, 0.186), (10.13, 0.183), (10.19, 0.187), (10.24, 0.184), (10.29, 0.187), (10.35, 0.184),
    (10.40, 0.186), (10.46, 0.183), (10.51, 0.186),
    (10.11, 0.201), (10.17, 0.204), (10.22, 0.200), (10.28, 0.203), (10.33, 0.200), (10.39, 0.204),
    (10.44, 0.201), (10.49, 0.204), (10.54, 0.200),
    (10.15, 0.214), (10.21, 0.217), (10.27, 0.214), (10.35, 0.216), (10.40, 0.213), (10.45, 0.217), (10.50, 0.213),
    (9.27, 0.036), (9.33, 0.058), (9.37, 0.028), (9.41, 0.045), (9.47, 0.033), (9.49, 0.056), (9.52, 0.040),
    (9.56, 0.030), (9.58, 0.062), (9.46, 0.060), (9.35, 0.030), (9.24, 0.032),
]
ipp_gdp, ipp_ky = (list(c) for c in zip(*ipp_rows))

usa_d_rows = [
    (9.01, 0.052), (9.085, 0.050), (9.24, 0.045), (9.40, 0.043), (9.42, 0.073), (9.45, 0.068), (9.49, 0.071),
    (9.54, 0.042), (9.55, 0.069), (9.575, 0.076), (9.60, 0.072), (9.59, 0.054), (9.61, 0.045), (9.63, 0.088),
    (9.63, 0.078), (9.66, 0.100), (9.67, 0.107), (9.68, 0.113), (9.73, 0.116), (9.75, 0.121), (9.79, 0.126),
    (9.84, 0.130), (9.90, 0.132), (9.91, 0.142), (9.95, 0.148), (9.97, 0.155), (9.965, 0.167), (9.98, 0.170),
    (10.02, 0.166), (10.04, 0.179), (10.06, 0.174), (10.08, 0.176), (10.12, 0.171), (10.07, 0.165),
    (10.16, 0.193), (10.19, 0.196), (10.18, 0.184), (10.18, 0.170), (10.16, 0.167), (10.25, 0.192),
    (10.29, 0.196), (10.31, 0.203), (10.34, 0.207), (10.37, 0.208), (10.40, 0.214), (10.41, 0.224),
    (10.39, 0.236), (10.43, 0.244), (10.45, 0.242), (10.49, 0.238), (10.52, 0.235), (10.56, 0.232),
    (10.59, 0.234), (10.62, 0.238), (10.62, 0.249), (10.64, 0.255), (10.67, 0.254), (10.71, 0.254),
    (10.72, 0.263), (10.71, 0.279), (10.67, 0.296), (10.70, 0.297), (10.72, 0.300), (10.74, 0.300),
]
usa_d_gdp, usa_d_ipp = (list(c) for c in zip(*usa_d_rows))

# fitted relationships
fit_gdp = [9.01, 11.145]
fit_total = [3.09, 3.01]
fit_cf = [3.07, 2.92]
fit_tangible = [3.05, 2.75]
ipp_fit_intercept, ipp_fit_slope = -12.043, 0.9708   # log(IPP K/Y) = a + b * log GDP pc

# ---------------- styling ----------------
FONT = "Liberation Sans"
TITLE_FONT = "Lato"
LIGHT_BLUE = "#ADD8E6"
PINK = "#FFE4E1"
NAVY = "#1A476F"
CRANBERRY = "#90353B"
DOT = 8.5
FRAME_W, FRAME_H = 563, 376
HEAD_SHIFT = 28   # px trimmed off the right end of the heading axis


def make_panel(title, xr, yr, xticks, yticks, xlabel, right, bottom, ylabels=None, xlabels=None):
    p = figure(frame_width=FRAME_W, frame_height=FRAME_H, x_range=Range1d(*xr), y_range=Range1d(*yr),
               output_backend="svg", toolbar_location=None,
               min_border_left=35, min_border_right=right, min_border_top=60, min_border_bottom=bottom)
    p.grid.visible = False
    p.outline_line_color = "#222222"
    p.outline_line_width = 1
    p.background_fill_color = "white"
    p.border_fill_color = "white"
    p.xaxis.ticker = FixedTicker(ticks=xticks)
    p.yaxis.ticker = FixedTicker(ticks=yticks)
    if xlabels:
        p.xaxis.major_label_overrides = xlabels
    if ylabels:
        p.yaxis.major_label_overrides = ylabels
    p.xaxis.axis_label = xlabel
    for ax in p.axis:
        ax.axis_line_color = "#222222"
        ax.major_tick_line_color = "#222222"
        ax.major_tick_out = 6
        ax.major_tick_in = 0
        ax.minor_tick_line_color = None
        ax.major_label_text_font = FONT
        ax.major_label_text_font_size = "15.5px"
        ax.major_label_text_color = "black"
        ax.axis_label_text_font = FONT
        ax.axis_label_text_font_size = "15.5px"
        ax.axis_label_text_font_style = "normal"
        ax.axis_label_text_color = "black"
        ax.axis_label_standoff = 2
        ax.major_label_standoff = 4
    p.yaxis.major_label_orientation = "vertical"
    # panel heading: a bare axis above the plot region that carries only its label
    span = xr[1] - xr[0]
    head = LinearAxis(ticker=FixedTicker(ticks=[]), axis_label=title, axis_line_color=None,
                      bounds=(xr[0], xr[1] - span * HEAD_SHIFT / FRAME_W),
                      major_tick_line_color=None, minor_tick_line_color=None,
                      major_tick_out=0, major_tick_in=0, minor_tick_out=0, minor_tick_in=0,
                      major_label_standoff=0, axis_label_standoff=18,
                      axis_label_text_font=TITLE_FONT, axis_label_text_font_size="31.5px",
                      axis_label_text_font_style="normal", axis_label_text_color="black")
    p.add_layout(head, "above")
    return p


def add_legend(p, r1, r2):
    leg = Legend(items=[LegendItem(label="Data (SNA08)", renderers=[r1]),
                        LegendItem(label="Accounting Counterfactual (pre\u2212SNA93)", renderers=[r2])],
                 orientation="horizontal", location="top_left", margin=12, padding=0,
                 glyph_width=57, glyph_height=16, label_height=16, label_standoff=10, spacing=25,
                 border_line_color=None, background_fill_alpha=0,
                 label_text_font=FONT, label_text_font_size="15.5px", label_text_color="black")
    p.add_layout(leg)


gdp_ticks = [9, 9.5, 10, 10.5, 11]
gdp_labels = {9: "9", 9.5: "9.5", 10: "10", 10.5: "10.5", 11: "11"}
gdp_range = (8.957, 11.178)

# (a)
pa = make_panel("(a) Across Time", (1928.47, 2015.6), (1.916, 5.084), [1930, 1950, 1970, 1990, 2010],
                [2, 3, 4, 5], "Years", right=57, bottom=107)
ra1 = pa.line(years, ky_data, line_color="#0000FF", line_width=1.4)
ra2 = pa.line(years, ky_cf, line_color="#FF0000", line_width=1.4)
pa.line(trend_years, trend_data, line_color="#0000FF", line_width=1.6, line_dash="8 4")
pa.line(trend_years, trend_cf, line_color="#FF0000", line_width=1.6, line_dash="8 4")
add_legend(pa, ra1, ra2)

# (b)
pb = make_panel("(b) Across Space", gdp_range, (0.874, 6.133), gdp_ticks, [1, 3, 5],
                "log(GDP per capita)", right=1, bottom=107, xlabels=gdp_labels)
pb.scatter(log_gdp, total_ky, size=DOT, fill_color=LIGHT_BLUE, line_color=None)
pb.scatter(log_gdp, counterfactual_ky, size=DOT, fill_color=PINK, line_color=None)
pb.scatter(usa_b_gdp, usa_b_total, size=DOT, fill_color=NAVY, line_color=None)
pb.scatter(usa_b_gdp, usa_b_cf, size=DOT, fill_color=CRANBERRY, line_color=None)
rb1 = pb.line(fit_gdp, fit_total, line_color="#0000FF", line_width=4)
rb2 = pb.line(fit_gdp, fit_cf, line_color="#FF0000", line_width=4)
pb.add_layout(Label(x=10.727, y=3.895, text="USA", text_font=FONT, text_font_size="13px",
                    text_color="#34427A", text_baseline="middle", text_align="left"))
pb.add_layout(Label(x=10.727, y=3.70, text="USA", text_font=FONT, text_font_size="13px",
                    text_color="#9A3F46", text_baseline="middle", text_align="left"))
add_legend(pb, rb1, rb2)

# (c)
pc = make_panel("(c) Tangible Capital to Output Ratio", gdp_range, (0.853, 6.13), gdp_ticks, [1, 3, 5],
                "log(GDP per capita)", right=57, bottom=44, xlabels=gdp_labels)
pc.scatter(log_gdp, tangible_ky, size=DOT, fill_color=LIGHT_BLUE, line_color=None)
pc.add_layout(Label(x=10.655, y=3.37, text="USA", text_font=FONT, text_font_size="13px",
                    text_color="#4A5670", text_baseline="middle", text_align="left", level="underlay"))
pc.scatter(usa_c_gdp, usa_c_tangible, size=DOT, fill_color=NAVY, line_color=None)
pc.line(fit_gdp, fit_tangible, line_color="#0000FF", line_width=4)

# (d)
pd_ = make_panel("(d) IPP Capital to Output Ratio", gdp_range, (-0.0332, 0.5116), gdp_ticks,
                 [0, 0.1, 0.2, 0.3, 0.4, 0.5], "log(GDP per capita)", right=1, bottom=44,
                 xlabels=gdp_labels, ylabels={0: "0", 0.1: ".1", 0.2: ".2", 0.3: ".3", 0.4: ".4", 0.5: ".5"})
pd_.scatter(ipp_gdp, ipp_ky, size=DOT, fill_color=LIGHT_BLUE, line_color=None)
pd_.scatter(usa_d_gdp, usa_d_ipp, size=DOT, fill_color=NAVY, line_color=None)
curve_x = np.linspace(fit_gdp[0], fit_gdp[1], 120)
pd_.line(curve_x, np.exp(ipp_fit_intercept + ipp_fit_slope * curve_x), line_color="#0000FF", line_width=4)
pd_.add_layout(Label(x=10.70, y=0.314, text="USA", text_font=FONT, text_font_size="13px",
                     text_color="#34427A", text_baseline="middle", text_align="center"))

layout = column(row(pa, pb), row(pc, pd_))
open("out.html", "w").write(file_html(layout, INLINE))
